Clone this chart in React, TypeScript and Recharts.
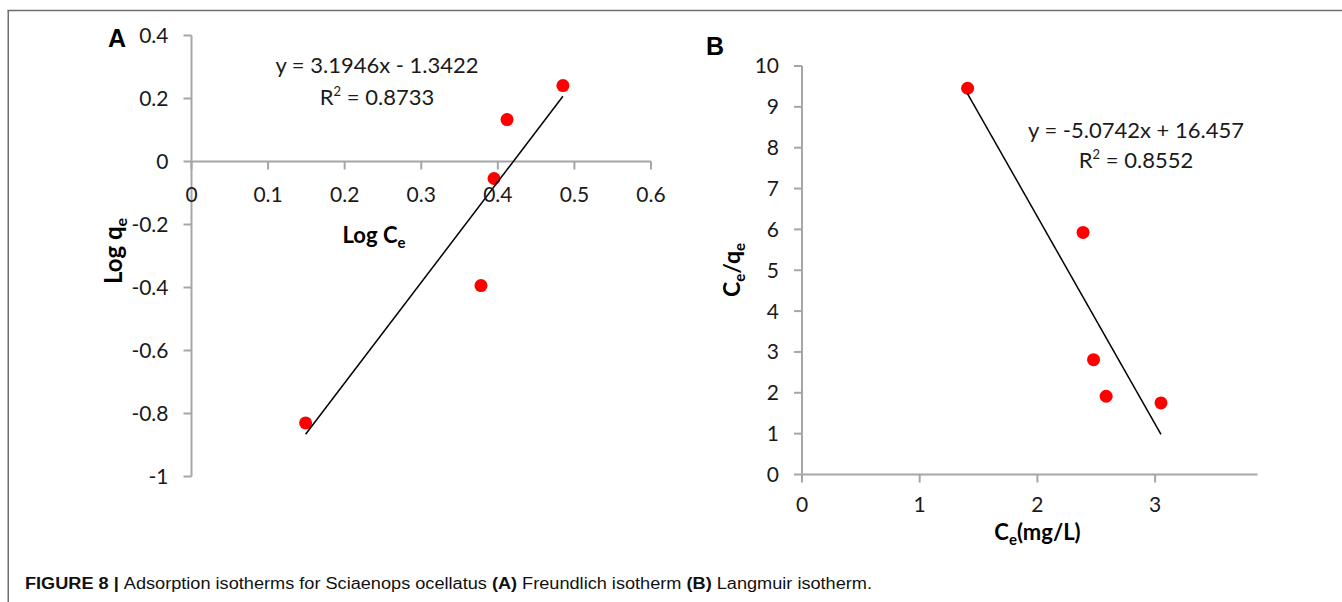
import React from 'react';
import { ScatterChart, Scatter, XAxis, YAxis, ReferenceLine } from 'recharts';

// ---------- Data ----------
// Panel A: Freundlich isotherm
const freundlichLogCe = [0.149, 0.378, 0.395, 0.412, 0.485];
const freundlichLogQe = [-0.83, -0.394, -0.054, 0.133, 0.241];
const freundlichTrendX = [0.149, 0.485];
const freundlichTrendY = [-0.866, 0.207];
const freundlichXTicks = [0, 0.1, 0.2, 0.3, 0.4, 0.5, 0.6];
const freundlichYTicks = [-1, -0.8, -0.6, -0.4, -0.2, 0, 0.2, 0.4];
const freundlichEquation = 'y = 3.1946x - 1.3422';
const freundlichR2 = '0.8733';

// Panel B: Langmuir isotherm
const langmuirCe = [1.407, 2.388, 2.477, 2.584, 3.05];
const langmuirCeQe = [9.455, 5.925, 2.81, 1.915, 1.753];
const langmuirTrendX = [1.407, 3.05];
const langmuirTrendY = [9.32, 0.98];
const langmuirXTicks = [0, 1, 2, 3];
const langmuirYTicks = [0, 1, 2, 3, 4, 5, 6, 7, 8, 9, 10];
const langmuirEquation = 'y = -5.0742x + 16.457';
const langmuirR2 = '0.8552';

const captionBold = 'FIGURE 8 | ';
const captionParts = [
  { t: 'Adsorption isotherms for Sciaenops ocellatus ', b: false },
  { t: '(A)', b: true },
  { t: ' Freundlich isotherm ', b: false },
  { t: '(B)', b: true },
  { t: ' Langmuir isotherm.', b: false },
];

// ---------- Styles / layout ----------
const AXIS = '#a6a6a6';
const FONT = 'Lato, "Open Sans", sans-serif';
const TICK_FILL = '#1a1a1a';
const TICK_SIZE = 21;

const A_W = 700;
const A_H = 560;
const A_MARGIN = { top: 35.5, left: 131.5, right: 49, bottom: 53.5 };
const A_YAXIS_W = 60;
const A_XAXIS_H = 30;
const A_Y_MIN = -1;
const A_Y_MAX = 0.4;
const A_PLOT_H = A_H - A_MARGIN.top - A_MARGIN.bottom - A_XAXIS_H;
const A_ZERO_Y = A_MARGIN.top + (A_PLOT_H * (A_Y_MAX - 0)) / (A_Y_MAX - A_Y_MIN);

const B_LEFT = 680;
const B_W = 662;
const B_H = 560;
const B_MARGIN = { top: 66, left: 62, right: 84.5, bottom: 45.5 };
const B_X_MAX = 3.87;

const toPoints = (xs: number[], ys: number[]) => xs.map((x, i) => ({ x, y: ys[i] }));

const freundlichData = toPoints(freundlichLogCe, freundlichLogQe);
const freundlichTrend = toPoints(freundlichTrendX, freundlichTrendY);
const langmuirData = toPoints(langmuirCe, langmuirCeQe);
const langmuirTrend = toPoints(langmuirTrendX, langmuirTrendY);

const RedDot = (p: any) => <circle cx={p.cx} cy={p.cy} r={6.5} fill="#ff0000" />;
const NoDot = () => <g />;

const AXTick = (props: any) => {
  const { x, payload } = props;
  return (
    <g>
      <line x1={x} x2={x} y1={A_ZERO_Y} y2={A_ZERO_Y + 8} stroke={AXIS} strokeWidth={2} />
      <text
        x={x}
        y={A_ZERO_Y + 40.5}
        textAnchor="middle"
        fill={TICK_FILL}
        fontSize={TICK_SIZE}
        fontFamily={FONT}
      >
        {String(payload.value)}
      </text>
    </g>
  );
};

const tickStyle = { fill: TICK_FILL, fontSize: TICK_SIZE, fontFamily: FONT };

export default function App() {
  return (
    <div style={{ position: 'absolute', left: 0, top: 0, width: 1342, height: 602, background: '#fff' }}>
      {/* Panel A */}
      <div style={{ position: 'absolute', left: 0, top: 0 }}>
        <ScatterChart width={A_W} height={A_H} margin={A_MARGIN}>
          <XAxis
            type="number"
            dataKey="x"
            domain={[0, 0.6]}
            ticks={freundlichXTicks}
            interval={0}
            axisLine={false}
            tickLine={false}
            tick={<AXTick />}
            height={A_XAXIS_H}
          />
          <YAxis
            type="number"
            dataKey="y"
            domain={[A_Y_MIN, A_Y_MAX]}
            ticks={freundlichYTicks}
            interval={0}
            width={A_YAXIS_W}
            axisLine={{ stroke: AXIS, strokeWidth: 2 }}
            tickLine={{ stroke: AXIS, strokeWidth: 2 }}
            tickSize={8}
            tickMargin={15}
            tick={tickStyle}
            tickFormatter={(v: number) => String(v)}
          />
          <ReferenceLine y={0} stroke={AXIS} strokeWidth={2} />
          <Scatter data={freundlichData} shape={RedDot} isAnimationActive={false} />
          <Scatter
            data={freundlichTrend}
            line={{ stroke: '#000', strokeWidth: 1.5 }}
            shape={NoDot}
            isAnimationActive={false}
          />
        </ScatterChart>
      </div>

      {/* Panel B */}
      <div style={{ position: 'absolute', left: B_LEFT, top: 0 }}>
        <ScatterChart width={B_W} height={B_H} margin={B_MARGIN}>
          <XAxis
            type="number"
            dataKey="x"
            domain={[0, B_X_MAX]}
            ticks={langmuirXTicks}
            interval={0}
            height={40}
            axisLine={{ stroke: AXIS, strokeWidth: 2 }}
            tickLine={{ stroke: AXIS, strokeWidth: 2 }}
            tickSize={8}
            tickMargin={15}
            tick={tickStyle}
          />
          <YAxis
            type="number"
            dataKey="y"
            domain={[0, 10]}
            ticks={langmuirYTicks}
            interval={0}
            width={60}
            axisLine={{ stroke: AXIS, strokeWidth: 2 }}
            tickLine={{ stroke: AXIS, strokeWidth: 2 }}
            tickSize={8}
            tickMargin={15}
            tick={tickStyle}
          />
          <Scatter data={langmuirData} shape={RedDot} isAnimationActive={false} />
          <Scatter
            data={langmuirTrend}
            line={{ stroke: '#000', strokeWidth: 1.5 }}
            shape={NoDot}
            isAnimationActive={false}
          />
        </ScatterChart>
      </div>

      {/* Annotations */}
      <svg
        width={1342}
        height={602}
        style={{ position: 'absolute', left: 0, top: 0, pointerEvents: 'none' }}
      >
        <line x1={7.5} x2={1342} y1={10.5} y2={10.5} stroke="#6e6e6e" strokeWidth={1.5} />
        <line x1={8.25} x2={8.25} y1={10} y2={602} stroke="#6e6e6e" strokeWidth={1.5} />

        <text x={108} y={47} fontFamily='"Liberation Sans", Arial, sans-serif' fontWeight="bold" fontSize={25} fill="#000">A</text>
        <text x={706} y={55} fontFamily='"Liberation Sans", Arial, sans-serif' fontWeight="bold" fontSize={25} fill="#000">B</text>

        <text x={377} y={73} textAnchor="middle" fontFamily={FONT} fontSize={22} fill={TICK_FILL}>{freundlichEquation}</text>
        <text x={377} y={104.5} textAnchor="middle" fontFamily={FONT} fontSize={22} fill={TICK_FILL}>
          R<tspan fontSize={13} dy={-9}>2</tspan><tspan dy={9}>{' = ' + freundlichR2}</tspan>
        </text>

        <text x={1136} y={137.5} textAnchor="middle" fontFamily={FONT} fontSize={22} fill={TICK_FILL}>{langmuirEquation}</text>
        <text x={1136} y={168} textAnchor="middle" fontFamily={FONT} fontSize={22} fill={TICK_FILL}>
          R<tspan fontSize={13} dy={-9}>2</tspan><tspan dy={9}>{' = ' + langmuirR2}</tspan>
        </text>

        {/* Axis titles */}
        <text x={374} y={243} textAnchor="middle" fontFamily={FONT} fontWeight="bold" fontSize={22} fill="#000">
          Log C<tspan fontSize={15} dy={5}>e</tspan>
        </text>
        <text
          transform="translate(121.5,251) rotate(-90)"
          textAnchor="middle"
          fontFamily={FONT}
          fontWeight="bold"
          fontSize={24}
          fill="#000"
        >
          Log q<tspan fontSize={16} dy={5}>e</tspan>
        </text>

        <text x={1037.5} y={540} textAnchor="middle" fontFamily={FONT} fontWeight="bold" fontSize={22} fill="#000">
          C<tspan fontSize={15} dy={5}>e</tspan><tspan dy={-5}>(mg/L)</tspan>
        </text>
        <text
          transform="translate(740,270) rotate(-90)"
          textAnchor="middle"
          fontFamily={FONT}
          fontWeight="bold"
          fontSize={23}
          fill="#000"
        >
          C<tspan fontSize={15} dy={5}>e</tspan><tspan dy={-5}>/q</tspan><tspan fontSize={15} dy={5}>e</tspan>
        </text>

        {/* Caption */}
        <text x={25} y={589} fontFamily='"Liberation Sans", Arial, sans-serif' fontSize={16} fill="#111" textLength={847} lengthAdjust="spacingAndGlyphs">
          <tspan fontWeight="bold">{captionBold}</tspan>
          {captionParts.map((p, i) => (
            <tspan key={i} fontWeight={p.b ? 'bold' : 'normal'}>{p.t}</tspan>
          ))}
        </text>
      </svg>
    </div>
  );
}
